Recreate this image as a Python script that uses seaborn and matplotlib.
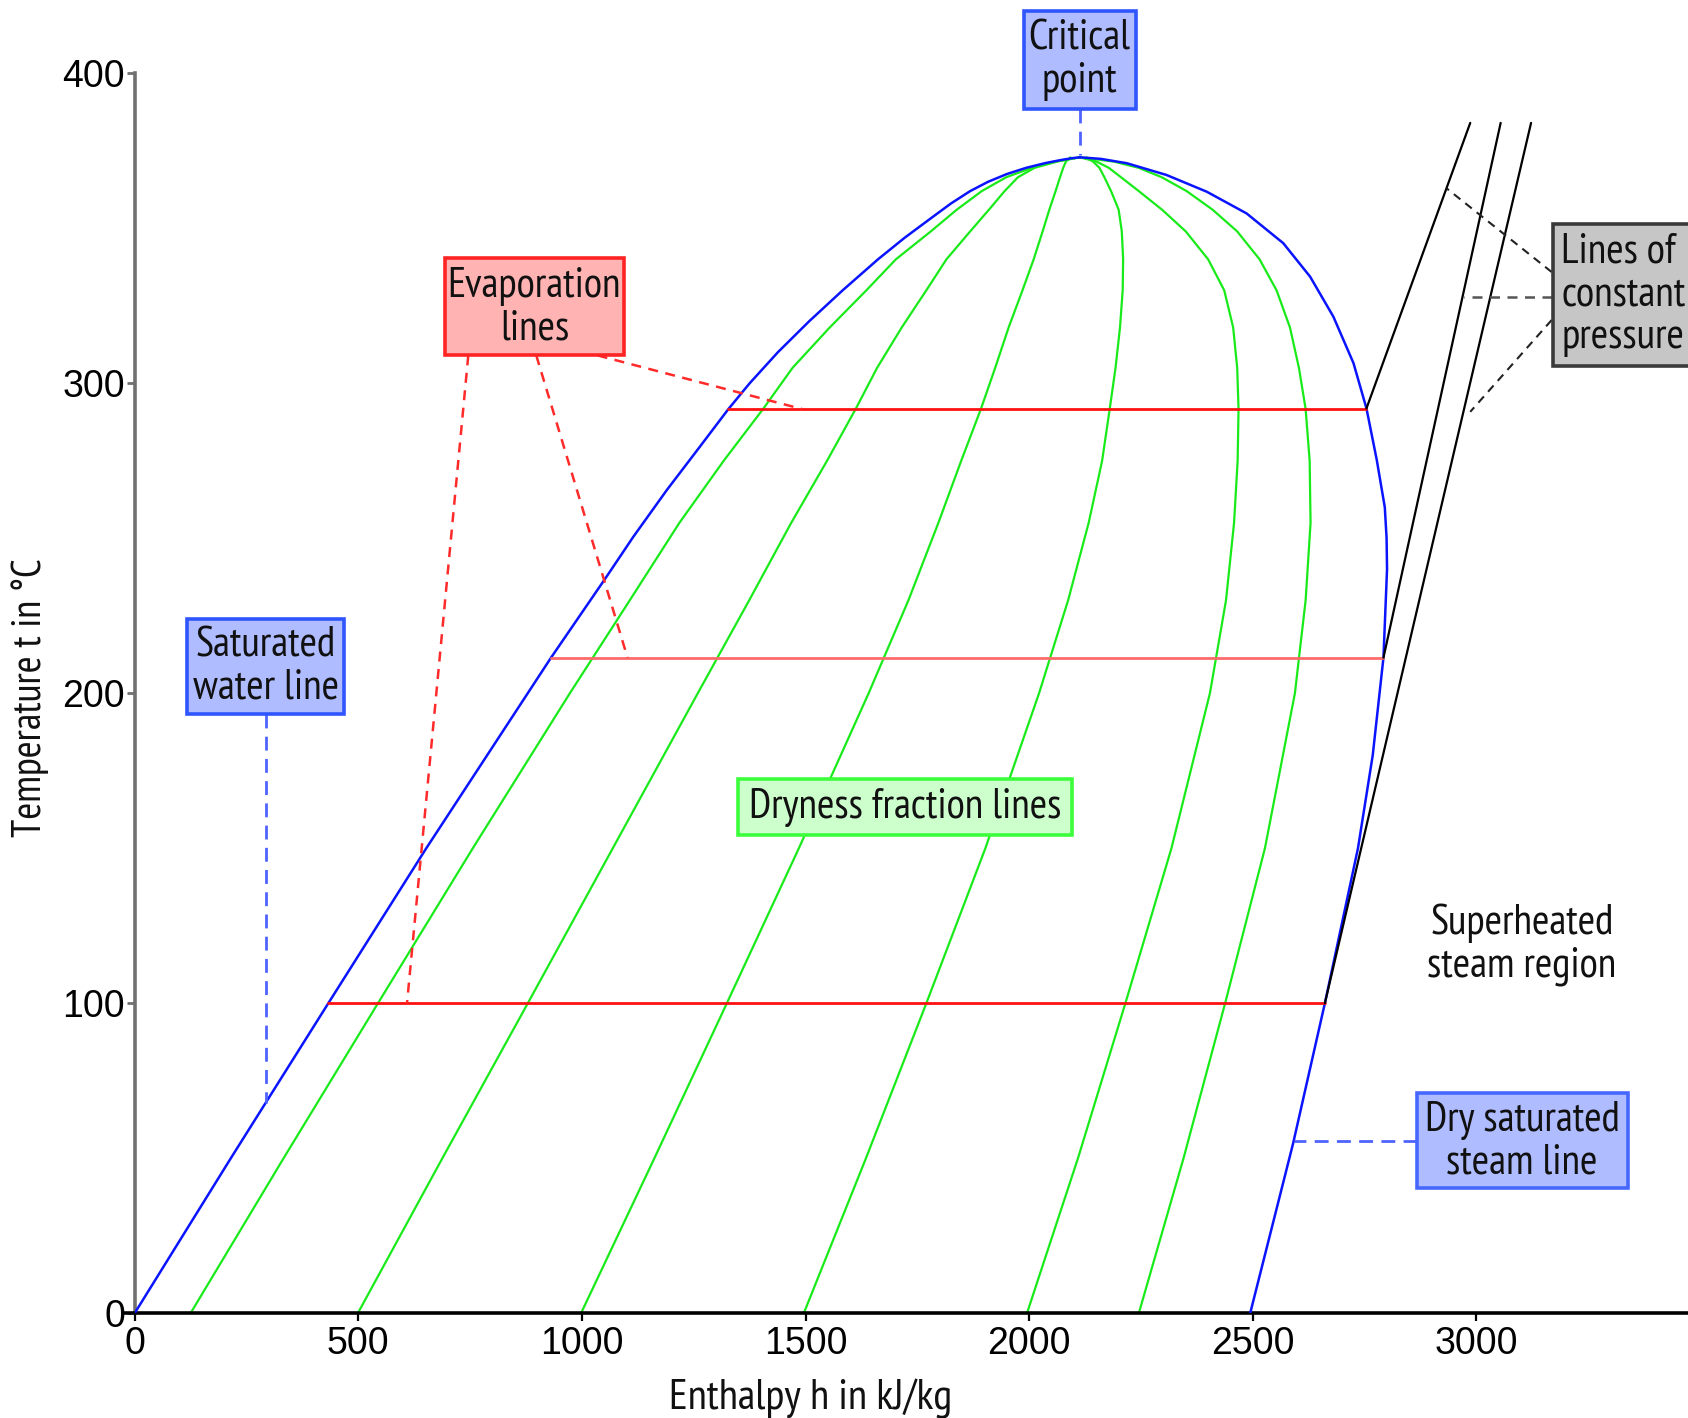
import matplotlib
matplotlib.use("Agg")
import matplotlib.pyplot as plt
import seaborn as sns
from matplotlib import font_manager
from matplotlib.patches import Rectangle

# ---------------- data ----------------
sat_water_T = [0, 50, 100, 150, 211.5, 237.6, 250.5, 265.6, 279.6, 291.6, 300, 310, 320,
               330, 340, 347, 353, 358, 362, 365, 367.5, 369.5, 371, 372, 372.6, 372.9]
sat_water_h = [0, 215, 433, 652, 931, 1055, 1115, 1190, 1264, 1327, 1375, 1438, 1508,
               1583, 1662, 1722, 1778, 1825, 1868, 1908, 1950, 1993, 2035, 2070, 2095, 2113]

sat_steam_T = [0, 54.8, 100, 150, 180, 211.5, 240, 250, 260, 275.3, 291.9, 306.5, 321.5,
               334.4, 345.2, 354.8, 361.8, 367.2, 371, 372.4, 372.9]
sat_steam_h = [2494, 2590, 2661, 2735, 2768, 2792, 2800, 2799, 2795, 2777, 2754, 2725, 2680,
               2628, 2568, 2486, 2397, 2307, 2218, 2160, 2113]

dry_T = [0, 50, 100, 150, 200, 230, 255, 275, 291.7, 305, 318, 330, 340, 349, 356, 362,
         366.5, 369.5, 371.5, 372.9]
dry_h_005 = [125, 333, 544, 756, 973, 1107, 1218, 1317, 1405, 1471, 1554, 1636, 1702, 1780,
             1838, 1894, 1949, 2006, 2057, 2113]
dry_h_020 = [499, 688, 879, 1069, 1259, 1374, 1468, 1548, 1612, 1660, 1715, 1770, 1815, 1868,
             1910, 1945, 1975, 2012, 2062, 2113]
dry_h_040 = [998, 1162, 1324, 1485, 1641, 1730, 1797, 1848, 1892, 1924, 1954, 1985, 2010, 2030,
             2045, 2059, 2069, 2076, 2082, 2092]
dry_h_060 = [1496, 1635, 1770, 1902, 2022, 2087, 2133, 2163, 2180, 2193, 2203, 2209, 2210, 2207,
             2200, 2183, 2168, 2157, 2143, 2128]
dry_h_080 = [1995, 2109, 2215, 2318, 2404, 2440, 2458, 2466, 2468, 2465, 2456, 2436, 2400, 2350,
             2297, 2245, 2205, 2178, 2151, 2113]
dry_h_090 = [2245, 2345, 2438, 2527, 2594, 2618, 2629, 2627, 2618, 2603, 2583, 2553, 2515, 2465,
             2410, 2352, 2296, 2245, 2190, 2113]

evap_T = [100, 211.5, 291.7]
evap_h_start = [433, 931, 1327]
evap_h_end = [2661, 2792, 2754]

cp_T_start = [291.9, 211.5, 100]
cp_h_start = [2754, 2792, 2661]
cp_T_end = [384, 384, 384]
cp_h_end = [2986, 3054, 3122]

xticks = [0, 500, 1000, 1500, 2000, 2500, 3000]
yticks = [0, 100, 200, 300, 400]

# ---------------- styling ----------------
sns.set_theme(style="white")
names = {f.name for f in font_manager.fontManager.ttflist}
NARROW = "Liberation Sans"
for cand in ["Liberation Sans Narrow", "Arial Narrow", "PT Sans Narrow", "Roboto Condensed",
             "Archivo Narrow", "Asap Condensed"]:
    if cand in names:
        NARROW = cand
        break
plt.rcParams["font.family"] = ["Liberation Sans", "DejaVu Sans"]
NFAM = [NARROW, "Liberation Sans", "DejaVu Sans"]

W, H = 1688, 1418
fig = plt.figure(figsize=(W / 100, H / 100), dpi=100)
x0, y0 = 134.6 / W, (H - 1313.3) / H
ax = fig.add_axes([x0, y0, 1 - x0, 1 - y0])
ax.set_facecolor("white")

BLUE = "#0a14ff"
GREEN = "#19ea19"
RED = "#ff1010"

for hs in [dry_h_005, dry_h_020, dry_h_040, dry_h_060, dry_h_080, dry_h_090]:
    sns.lineplot(x=hs, y=dry_T, sort=False, estimator=None, color=GREEN, lw=1.6, ax=ax, zorder=2)

sns.lineplot(x=sat_water_h, y=sat_water_T, sort=False, estimator=None, color=BLUE, lw=1.8, ax=ax, zorder=3)
sns.lineplot(x=sat_steam_h, y=sat_steam_T, sort=False, estimator=None, color=BLUE, lw=1.8, ax=ax, zorder=3)

for T, hs, he in zip(evap_T, evap_h_start, evap_h_end):
    c = "#ff6a6a" if T == 211.5 else RED
    sns.lineplot(x=[hs, he], y=[T, T], sort=False, estimator=None, color=c, lw=2.0, ax=ax, zorder=4)

for ts, hs, te, he in zip(cp_T_start, cp_h_start, cp_T_end, cp_h_end):
    sns.lineplot(x=[hs, he], y=[ts, te], sort=False, estimator=None, color="black", lw=1.6, ax=ax, zorder=4)

def leader(xs, ys, color, lw=1.8, dash=(4, 3)):
    ax.plot(xs, ys, color=color, lw=lw, linestyle=(0, dash), zorder=5, solid_capstyle="butt")

LB = "#4f63ff"
leader([2113, 2113], [388.5, 373.5], LB, lw=2.0, dash=(5, 3))
leader([294, 294], [193.4, 68], LB, lw=2.0, dash=(5, 3))
leader([2866, 2591], [55.6, 55.6], LB, lw=2.0, dash=(5, 3))
leader([746, 609], [309, 100], "#ff2a2a")
leader([898, 1102], [309, 211.5], "#ff2a2a")
leader([1035, 1492], [309, 291.7], "#ff2a2a")
leader([3168, 2933], [335.9, 362.9], "#222222", lw=1.5)
leader([3168, 2971], [327.9, 327.9], "#555555", lw=1.8)
leader([3168, 2986], [320.4, 290.8], "#222222", lw=1.5)

def box(h0, h1, t0, t1, face, edge):
    ax.add_patch(Rectangle((h0, t0), h1 - h0, t1 - t0, facecolor=face, edgecolor=edge,
                           lw=2.6, zorder=6, clip_on=False))

FS = 30
LS = 1.12
anns = []
def label(x, y, s, ha="center"):
    t = ax.text(x, y, s, ha=ha, va="center", fontsize=FS, linespacing=LS, zorder=7,
                family=NFAM, color="#111111")
    anns.append(t)
    return t

box(1988, 2238, 388.5, 420.1, "#afbcff", "#2f55ff")
label(2113, 404.3, "Critical\npoint")
box(693, 1095, 309, 340.3, "#ffb3b3", "#ff2424")
label(894, 324.5, "Evaporation\nlines")
box(118, 469, 193.4, 224, "#afbcff", "#2f55ff")
label(294, 208.5, "Saturated\nwater line")
box(1350, 2096, 154.2, 172.2, "#ccffcc", "#3cff3c")
t_dry = label(1723, 163.2, "Dryness fraction lines")
box(2866, 3338, 40.3, 71.2, "#afbcff", "#4668ff")
label(3102, 55.4, "Dry saturated\nsteam line")
box(3172, 3600, 305.6, 351.4, "#c6c6c6", "#3a3a3a")
label(3190, 328.5, "Lines of\nconstant\npressure", ha="left")
label(3102, 119.0, "Superheated\nsteam region")

xmax = (W - 134.6) / 0.4473
ax.set_xlim(0, xmax)
ax.set_ylim(0, 1313.3 / 3.1)
ax.set_xticks(xticks)
ax.set_yticks(yticks)
ax.set_xticklabels([str(v) for v in xticks])
ax.set_yticklabels([str(v) for v in yticks])
for s in ["top", "right"]:
    ax.spines[s].set_visible(False)
ax.spines["left"].set_bounds(0, 400)
ax.spines["left"].set_color("#707070")
ax.spines["left"].set_linewidth(2.6)
ax.spines["bottom"].set_bounds(-25, xmax)
ax.spines["bottom"].set_color("black")
ax.spines["bottom"].set_linewidth(2.6)
ax.tick_params(axis="x", direction="out", length=6, width=1.6, color="black", pad=3,
               labelsize=27, labelcolor="black", bottom=True)
ax.tick_params(axis="y", direction="out", length=6, width=2.0, color="#707070", pad=1,
               labelsize=27, labelcolor="black", left=True)
ax.grid(False)

xl = ax.set_xlabel("Enthalpy h in kJ/kg", fontsize=28, color="#111111", family=NFAM)
yl = ax.set_ylabel("Temperature t in °C", fontsize=28, color="#111111", family=NFAM)
ax.xaxis.label.set_va("center")
ax.yaxis.label.set_va("center")
ax.xaxis.set_label_coords(0.435, -0.0656)
ax.yaxis.set_label_coords(-0.0673, 0.4688)

# match text widths to the reference
fig.canvas.draw()
r = fig.canvas.get_renderer()
scale = 312.0 / t_dry.get_window_extent(r).width
for t in anns:
    t.set_fontsize(FS * scale)
xl.set_fontsize(28 * 282.0 / xl.get_window_extent(r).width)
yl.set_fontsize(28 * 278.0 / yl.get_window_extent(r).height)

fig.savefig("out.png", dpi=100)
